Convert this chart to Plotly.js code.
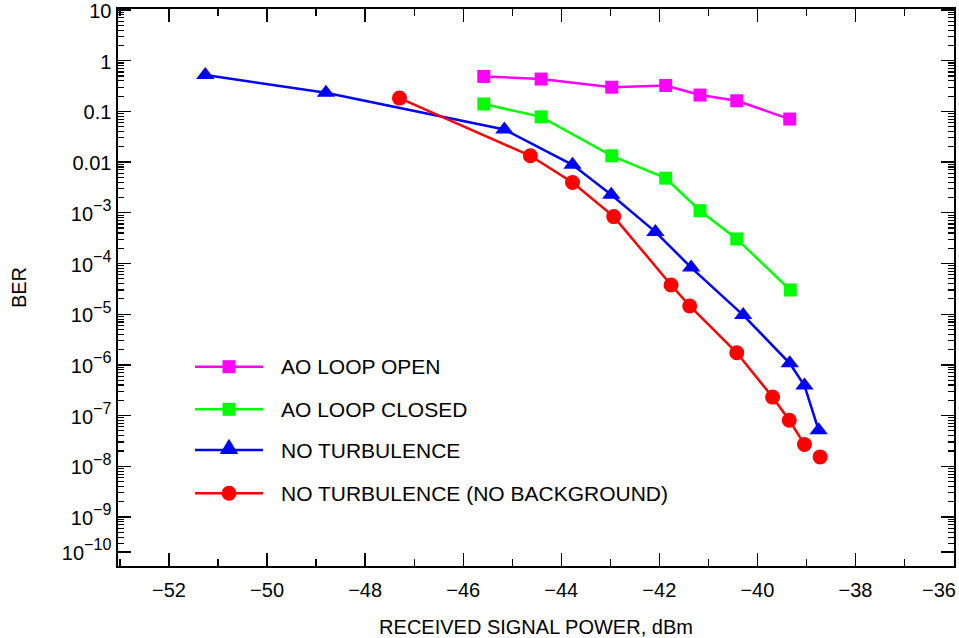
<!DOCTYPE html>
<html><head><meta charset="utf-8">
<script src="https://cdn.plot.ly/plotly-3.0.1.min.js"></script>
<style>html,body{margin:0;padding:0;background:#fff}#chart{width:959px;height:638px}</style>
</head><body><div id="chart"></div>
<script>
// ---- data ----
const openX   = [-45.58, -44.41, -42.97, -41.87, -41.17, -40.42, -39.34];
const openY   = [0.49, 0.435, 0.30, 0.325, 0.21, 0.162, 0.0706];

const closedX = [-45.58, -44.41, -42.97, -41.87, -41.17, -40.42, -39.33];
const closedY = [0.14, 0.078, 0.0133, 0.00482, 0.0011, 3.05e-4, 3.0e-5];

const noTurbX = [-51.26, -48.80, -45.16, -43.77, -42.98, -42.08, -41.35, -40.29, -39.34, -39.04, -38.75];
const noTurbY = [0.52, 0.233, 0.044, 0.00883, 0.00226, 4.2e-4, 8.3e-5, 9.6e-6, 1.07e-6, 3.9e-7, 5.1e-8];

// last point is plotted but not joined by the line (null = gap)
const noBgX = [-47.30, -44.63, -43.77, -42.93, -41.76, -41.38, -40.42, -39.69, -39.35, -39.04, null, -38.72];
const noBgY = [0.183, 0.0133, 0.00395, 8.4e-4, 3.77e-5, 1.45e-5, 1.73e-6, 2.31e-7, 8.1e-8, 2.69e-8, null, 1.53e-8];

const seriesNames = ['AO LOOP OPEN', 'AO LOOP CLOSED', 'NO TURBULENCE', 'NO TURBULENCE (NO BACKGROUND)'];

const xTickVals = [-52, -50, -48, -46, -44, -42, -40, -38, -36];
const xTickText = ['−52', '−50', '−48', '−46', '−44', '−42', '−40', '−38', '−36'];

const yTickVals = [10, 1, 0.1, 0.01, 1e-3, 1e-4, 1e-5, 1e-6, 1e-7, 1e-8, 1e-9, 2.04e-10];
const yTickExp  = [null, null, null, null, '−3', '−4', '−5', '−6', '−7', '−8', '−9', '−10'];
const yTickBase = ['10', '1', '0.1', '0.01', '10', '10', '10', '10', '10', '10', '10', '10'];

// ---- styling ----
const FONT = '"Liberation Sans", Arial, Helvetica, sans-serif';
const colors = ['#ff00ff', '#00ff00', '#0000ff', '#ff0000'];
const symbols = ['square', 'square', 'triangle-up', 'circle'];
const sizes = [13, 13, 16, 15];
const LW = 2.5;

// tick font is 23 so that <sup> (70%) is ~16px; the base text is set back to 20px
const yTickText = yTickBase.map((b, i) => '<span style="font-size:20px">' + b + '</span>' +
  (yTickExp[i] === null ? '' : '<sup>' + yTickExp[i] + '</sup>'));
// the last x label sits against the right edge in the reference: it is drawn as an annotation, shifted in
const lastX = xTickVals.length - 1;
const xTickShown = xTickText.map((t, i) => i === lastX ? '' : t);

const xs = [openX, closedX, noTurbX, noBgX];
const ys = [openY, closedY, noTurbY, noBgY];

const traces = xs.map((x, i) => ({
  type: 'scatter', mode: 'lines+markers', x: x, y: ys[i], name: seriesNames[i],
  connectgaps: false, showlegend: false, cliponaxis: false,
  line: {color: colors[i], width: LW},
  marker: {color: colors[i], symbol: symbols[i], size: sizes[i], line: {width: 0}}
}));

// margins / plot box in pixels
const M = {l: 118, r: 5, t: 9, b: 72};
const W = 959, H = 638;
const PW = W - M.l - M.r, PH = H - M.t - M.b;
const px = v => (v - M.l) / PW;
const py = v => (H - M.b - v) / PH;

// custom legend (line sample + marker + text)
const legRows = [366.7, 409.3, 450, 493.3];
const legX0 = 195, legX1 = 263, legXm = 229, legText = 279;
const shapes = [];
const annotations = [];
legRows.forEach((r, i) => {
  shapes.push({type: 'line', xref: 'paper', yref: 'paper', x0: px(legX0), x1: px(legX1), y0: py(r), y1: py(r),
    line: {color: colors[i], width: LW}});
  if (symbols[i] === 'square') {
    const h = sizes[i] / 2;
    shapes.push({type: 'rect', xref: 'paper', yref: 'paper', x0: px(legXm - h), x1: px(legXm + h),
      y0: py(r - h), y1: py(r + h), fillcolor: colors[i], line: {width: 0}});
  } else if (symbols[i] === 'circle') {
    const h = sizes[i] / 2;
    shapes.push({type: 'circle', xref: 'paper', yref: 'paper', x0: px(legXm - h), x1: px(legXm + h),
      y0: py(r - h), y1: py(r + h), fillcolor: colors[i], line: {width: 0}});
  } else {
    const rr = sizes[i] / 2, rt = rr * 2 / Math.sqrt(3), rs = rr * Math.sqrt(2);
    const path = 'M' + px(legXm - rt) + ',' + py(r + rr / 2) + ' L' + px(legXm + rt) + ',' + py(r + rr / 2) +
      ' L' + px(legXm) + ',' + py(r - rs) + ' Z';
    shapes.push({type: 'path', xref: 'paper', yref: 'paper', path: path, fillcolor: colors[i], line: {width: 0}});
  }
  annotations.push({xref: 'paper', yref: 'paper', x: px(legText), y: py(r), xanchor: 'left', yanchor: 'middle',
    text: seriesNames[i], showarrow: false, font: {family: FONT, size: 21, color: '#000'}});
});
annotations.push({xref: 'x', yref: 'paper', x: xTickVals[lastX], y: 0, xanchor: 'right', yanchor: 'middle',
  xshift: 4, yshift: -24, text: xTickText[lastX], showarrow: false, font: {family: FONT, size: 20, color: '#000'}});

const layout = {
  width: W, height: H,
  margin: M,
  paper_bgcolor: '#fff', plot_bgcolor: '#fff',
  font: {family: FONT, size: 20, color: '#000'},
  showlegend: false,
  xaxis: {
    range: [-53.04, -35.99], showgrid: false, zeroline: false,
    showline: true, linecolor: '#000', linewidth: 2, mirror: 'ticks',
    ticks: 'inside', ticklen: 13, tickwidth: 1.3, tickcolor: '#000',
    tickmode: 'array', tickvals: xTickVals, ticktext: xTickShown, tickfont: {family: FONT, size: 20},
    ticklabeloverflow: 'allow', ticklabelstandoff: 5,
    minor: {tickmode: 'linear', dtick: 1, tick0: -52, ticks: 'inside', ticklen: 7, tickwidth: 1.3, tickcolor: '#000', showgrid: false},
    title: {text: 'RECEIVED SIGNAL POWER, dBm', font: {family: FONT, size: 20}, standoff: 22}
  },
  yaxis: {
    type: 'log', range: [-9.968, 1.02], showgrid: false, zeroline: false,
    showline: true, linecolor: '#000', linewidth: 2, mirror: 'ticks',
    ticks: 'inside', ticklen: 13, tickwidth: 1.3, tickcolor: '#000',
    tickmode: 'array', tickvals: yTickVals, ticktext: yTickText, tickfont: {family: FONT, size: 23},
    ticklabeloverflow: 'allow',
    minor: {dtick: 'D1', ticks: 'inside', ticklen: 6, tickwidth: 1.1, tickcolor: '#000', showgrid: false},
    title: {text: 'BER', font: {family: FONT, size: 20}, standoff: 30}
  },
  shapes: shapes,
  annotations: annotations
};

Plotly.newPlot('chart', traces, layout, {displayModeBar: false, staticPlot: true});
</script>
</body></html>
